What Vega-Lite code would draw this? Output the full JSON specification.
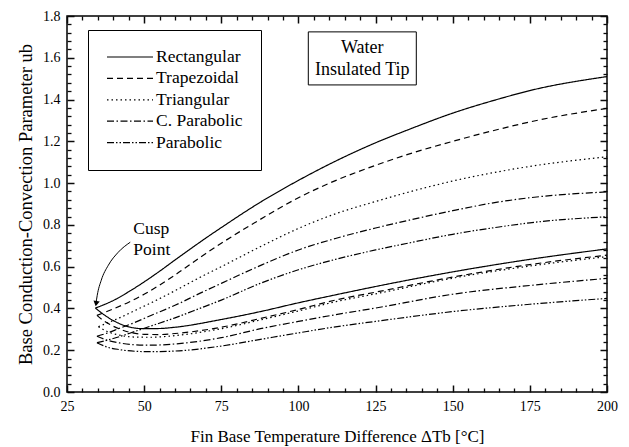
{
  "$schema": "https://vega.github.io/schema/vega-lite/v6.json",
  "width": 540,
  "height": 376,
  "autosize": "none",
  "padding": {"left": 67, "top": 16, "right": 22, "bottom": 55},
  "background": "white",
  "config": {
    "view": {"stroke": "black", "strokeWidth": 1.5},
    "font": "Liberation Serif",
    "axis": {
      "grid": false, "domain": false,
      "labelFont": "Liberation Serif", "titleFont": "Liberation Serif",
      "labelColor": "black", "titleColor": "black",
      "labelFontSize": 14, "titleFontSize": 17, "titleFontWeight": "normal",
      "labelFlush": false
    }
  },
  "resolve": {"axis": {"x": "independent", "y": "independent"}},
  "layer": [
    {
      "data": {"values": [
        {"shape":"Rectangular","branch":"upper","dT":34.2,"ub":0.402},
        {"shape":"Rectangular","branch":"upper","dT":37,"ub":0.418},
        {"shape":"Rectangular","branch":"upper","dT":40,"ub":0.438},
        {"shape":"Rectangular","branch":"upper","dT":45,"ub":0.48},
        {"shape":"Rectangular","branch":"upper","dT":50,"ub":0.527},
        {"shape":"Rectangular","branch":"upper","dT":55,"ub":0.578},
        {"shape":"Rectangular","branch":"upper","dT":60,"ub":0.632},
        {"shape":"Rectangular","branch":"upper","dT":65,"ub":0.685},
        {"shape":"Rectangular","branch":"upper","dT":70,"ub":0.737},
        {"shape":"Rectangular","branch":"upper","dT":75,"ub":0.787},
        {"shape":"Rectangular","branch":"upper","dT":87.6,"ub":0.908},
        {"shape":"Rectangular","branch":"upper","dT":100,"ub":1.013},
        {"shape":"Rectangular","branch":"upper","dT":112,"ub":1.105},
        {"shape":"Rectangular","branch":"upper","dT":125,"ub":1.193},
        {"shape":"Rectangular","branch":"upper","dT":136,"ub":1.258},
        {"shape":"Rectangular","branch":"upper","dT":150,"ub":1.335},
        {"shape":"Rectangular","branch":"upper","dT":165,"ub":1.403},
        {"shape":"Rectangular","branch":"upper","dT":175,"ub":1.443},
        {"shape":"Rectangular","branch":"upper","dT":200,"ub":1.51},
        {"shape":"Rectangular","branch":"lower","dT":34.2,"ub":0.402},
        {"shape":"Rectangular","branch":"lower","dT":37,"ub":0.37},
        {"shape":"Rectangular","branch":"lower","dT":40,"ub":0.342},
        {"shape":"Rectangular","branch":"lower","dT":45,"ub":0.312},
        {"shape":"Rectangular","branch":"lower","dT":50,"ub":0.303},
        {"shape":"Rectangular","branch":"lower","dT":55,"ub":0.304},
        {"shape":"Rectangular","branch":"lower","dT":60,"ub":0.31},
        {"shape":"Rectangular","branch":"lower","dT":75,"ub":0.347},
        {"shape":"Rectangular","branch":"lower","dT":87.7,"ub":0.385},
        {"shape":"Rectangular","branch":"lower","dT":100,"ub":0.427},
        {"shape":"Rectangular","branch":"lower","dT":112,"ub":0.465},
        {"shape":"Rectangular","branch":"lower","dT":125,"ub":0.505},
        {"shape":"Rectangular","branch":"lower","dT":150,"ub":0.575},
        {"shape":"Rectangular","branch":"lower","dT":175,"ub":0.635},
        {"shape":"Rectangular","branch":"lower","dT":200,"ub":0.685},
        {"shape":"Trapezoidal","branch":"upper","dT":34.7,"ub":0.367},
        {"shape":"Trapezoidal","branch":"upper","dT":37,"ub":0.38},
        {"shape":"Trapezoidal","branch":"upper","dT":40,"ub":0.398},
        {"shape":"Trapezoidal","branch":"upper","dT":45,"ub":0.43},
        {"shape":"Trapezoidal","branch":"upper","dT":50,"ub":0.468},
        {"shape":"Trapezoidal","branch":"upper","dT":55,"ub":0.512},
        {"shape":"Trapezoidal","branch":"upper","dT":60,"ub":0.56},
        {"shape":"Trapezoidal","branch":"upper","dT":65,"ub":0.612},
        {"shape":"Trapezoidal","branch":"upper","dT":70,"ub":0.663},
        {"shape":"Trapezoidal","branch":"upper","dT":75,"ub":0.712},
        {"shape":"Trapezoidal","branch":"upper","dT":87.6,"ub":0.826},
        {"shape":"Trapezoidal","branch":"upper","dT":100,"ub":0.93},
        {"shape":"Trapezoidal","branch":"upper","dT":112,"ub":1.012},
        {"shape":"Trapezoidal","branch":"upper","dT":125,"ub":1.085},
        {"shape":"Trapezoidal","branch":"upper","dT":136,"ub":1.14},
        {"shape":"Trapezoidal","branch":"upper","dT":150,"ub":1.2},
        {"shape":"Trapezoidal","branch":"upper","dT":165,"ub":1.258},
        {"shape":"Trapezoidal","branch":"upper","dT":175,"ub":1.293},
        {"shape":"Trapezoidal","branch":"upper","dT":200,"ub":1.358},
        {"shape":"Trapezoidal","branch":"lower","dT":34.7,"ub":0.367},
        {"shape":"Trapezoidal","branch":"lower","dT":37,"ub":0.34},
        {"shape":"Trapezoidal","branch":"lower","dT":40,"ub":0.315},
        {"shape":"Trapezoidal","branch":"lower","dT":45,"ub":0.287},
        {"shape":"Trapezoidal","branch":"lower","dT":50,"ub":0.276},
        {"shape":"Trapezoidal","branch":"lower","dT":55,"ub":0.275},
        {"shape":"Trapezoidal","branch":"lower","dT":60,"ub":0.28},
        {"shape":"Trapezoidal","branch":"lower","dT":75,"ub":0.31},
        {"shape":"Trapezoidal","branch":"lower","dT":87.7,"ub":0.352},
        {"shape":"Trapezoidal","branch":"lower","dT":100,"ub":0.395},
        {"shape":"Trapezoidal","branch":"lower","dT":112,"ub":0.44},
        {"shape":"Trapezoidal","branch":"lower","dT":125,"ub":0.478},
        {"shape":"Trapezoidal","branch":"lower","dT":150,"ub":0.55},
        {"shape":"Trapezoidal","branch":"lower","dT":175,"ub":0.61},
        {"shape":"Trapezoidal","branch":"lower","dT":200,"ub":0.655},
        {"shape":"Triangular","branch":"upper","dT":35.2,"ub":0.313},
        {"shape":"Triangular","branch":"upper","dT":38,"ub":0.33},
        {"shape":"Triangular","branch":"upper","dT":42,"ub":0.355},
        {"shape":"Triangular","branch":"upper","dT":47,"ub":0.39},
        {"shape":"Triangular","branch":"upper","dT":52,"ub":0.425},
        {"shape":"Triangular","branch":"upper","dT":60,"ub":0.485},
        {"shape":"Triangular","branch":"upper","dT":68,"ub":0.548},
        {"shape":"Triangular","branch":"upper","dT":75,"ub":0.6},
        {"shape":"Triangular","branch":"upper","dT":87.6,"ub":0.695},
        {"shape":"Triangular","branch":"upper","dT":100,"ub":0.783},
        {"shape":"Triangular","branch":"upper","dT":112,"ub":0.853},
        {"shape":"Triangular","branch":"upper","dT":125,"ub":0.912},
        {"shape":"Triangular","branch":"upper","dT":136,"ub":0.958},
        {"shape":"Triangular","branch":"upper","dT":150,"ub":1.01},
        {"shape":"Triangular","branch":"upper","dT":165,"ub":1.055},
        {"shape":"Triangular","branch":"upper","dT":175,"ub":1.08},
        {"shape":"Triangular","branch":"upper","dT":200,"ub":1.126},
        {"shape":"Triangular","branch":"lower","dT":35.2,"ub":0.313},
        {"shape":"Triangular","branch":"lower","dT":38,"ub":0.29},
        {"shape":"Triangular","branch":"lower","dT":42,"ub":0.272},
        {"shape":"Triangular","branch":"lower","dT":47,"ub":0.263},
        {"shape":"Triangular","branch":"lower","dT":52,"ub":0.262},
        {"shape":"Triangular","branch":"lower","dT":60,"ub":0.27},
        {"shape":"Triangular","branch":"lower","dT":75,"ub":0.303},
        {"shape":"Triangular","branch":"lower","dT":87.7,"ub":0.345},
        {"shape":"Triangular","branch":"lower","dT":100,"ub":0.388},
        {"shape":"Triangular","branch":"lower","dT":112,"ub":0.432},
        {"shape":"Triangular","branch":"lower","dT":125,"ub":0.47},
        {"shape":"Triangular","branch":"lower","dT":150,"ub":0.545},
        {"shape":"Triangular","branch":"lower","dT":175,"ub":0.603},
        {"shape":"Triangular","branch":"lower","dT":200,"ub":0.648},
        {"shape":"C. Parabolic","branch":"upper","dT":34.7,"ub":0.267},
        {"shape":"C. Parabolic","branch":"upper","dT":38,"ub":0.282},
        {"shape":"C. Parabolic","branch":"upper","dT":42,"ub":0.305},
        {"shape":"C. Parabolic","branch":"upper","dT":47,"ub":0.333},
        {"shape":"C. Parabolic","branch":"upper","dT":52,"ub":0.365},
        {"shape":"C. Parabolic","branch":"upper","dT":60,"ub":0.415},
        {"shape":"C. Parabolic","branch":"upper","dT":68,"ub":0.472},
        {"shape":"C. Parabolic","branch":"upper","dT":75,"ub":0.52},
        {"shape":"C. Parabolic","branch":"upper","dT":87.6,"ub":0.605},
        {"shape":"C. Parabolic","branch":"upper","dT":100,"ub":0.68},
        {"shape":"C. Parabolic","branch":"upper","dT":112,"ub":0.735},
        {"shape":"C. Parabolic","branch":"upper","dT":125,"ub":0.785},
        {"shape":"C. Parabolic","branch":"upper","dT":136,"ub":0.823},
        {"shape":"C. Parabolic","branch":"upper","dT":150,"ub":0.868},
        {"shape":"C. Parabolic","branch":"upper","dT":165,"ub":0.91},
        {"shape":"C. Parabolic","branch":"upper","dT":175,"ub":0.93},
        {"shape":"C. Parabolic","branch":"upper","dT":200,"ub":0.958},
        {"shape":"C. Parabolic","branch":"lower","dT":34.7,"ub":0.267},
        {"shape":"C. Parabolic","branch":"lower","dT":38,"ub":0.248},
        {"shape":"C. Parabolic","branch":"lower","dT":42,"ub":0.235},
        {"shape":"C. Parabolic","branch":"lower","dT":47,"ub":0.226},
        {"shape":"C. Parabolic","branch":"lower","dT":52,"ub":0.224},
        {"shape":"C. Parabolic","branch":"lower","dT":60,"ub":0.23},
        {"shape":"C. Parabolic","branch":"lower","dT":75,"ub":0.26},
        {"shape":"C. Parabolic","branch":"lower","dT":87.7,"ub":0.303},
        {"shape":"C. Parabolic","branch":"lower","dT":100,"ub":0.338},
        {"shape":"C. Parabolic","branch":"lower","dT":112,"ub":0.37},
        {"shape":"C. Parabolic","branch":"lower","dT":125,"ub":0.402},
        {"shape":"C. Parabolic","branch":"lower","dT":150,"ub":0.468},
        {"shape":"C. Parabolic","branch":"lower","dT":175,"ub":0.51},
        {"shape":"C. Parabolic","branch":"lower","dT":200,"ub":0.544},
        {"shape":"Parabolic","branch":"upper","dT":34.7,"ub":0.236},
        {"shape":"Parabolic","branch":"upper","dT":38,"ub":0.248},
        {"shape":"Parabolic","branch":"upper","dT":42,"ub":0.265},
        {"shape":"Parabolic","branch":"upper","dT":47,"ub":0.29},
        {"shape":"Parabolic","branch":"upper","dT":52,"ub":0.315},
        {"shape":"Parabolic","branch":"upper","dT":60,"ub":0.355},
        {"shape":"Parabolic","branch":"upper","dT":68,"ub":0.4},
        {"shape":"Parabolic","branch":"upper","dT":75,"ub":0.44},
        {"shape":"Parabolic","branch":"upper","dT":87.6,"ub":0.52},
        {"shape":"Parabolic","branch":"upper","dT":100,"ub":0.585},
        {"shape":"Parabolic","branch":"upper","dT":112,"ub":0.635},
        {"shape":"Parabolic","branch":"upper","dT":125,"ub":0.68},
        {"shape":"Parabolic","branch":"upper","dT":136,"ub":0.714},
        {"shape":"Parabolic","branch":"upper","dT":150,"ub":0.755},
        {"shape":"Parabolic","branch":"upper","dT":165,"ub":0.79},
        {"shape":"Parabolic","branch":"upper","dT":175,"ub":0.81},
        {"shape":"Parabolic","branch":"upper","dT":200,"ub":0.839},
        {"shape":"Parabolic","branch":"lower","dT":34.7,"ub":0.236},
        {"shape":"Parabolic","branch":"lower","dT":38,"ub":0.215},
        {"shape":"Parabolic","branch":"lower","dT":42,"ub":0.203},
        {"shape":"Parabolic","branch":"lower","dT":47,"ub":0.195},
        {"shape":"Parabolic","branch":"lower","dT":52,"ub":0.193},
        {"shape":"Parabolic","branch":"lower","dT":60,"ub":0.196},
        {"shape":"Parabolic","branch":"lower","dT":75,"ub":0.22},
        {"shape":"Parabolic","branch":"lower","dT":87.7,"ub":0.252},
        {"shape":"Parabolic","branch":"lower","dT":100,"ub":0.283},
        {"shape":"Parabolic","branch":"lower","dT":112,"ub":0.312},
        {"shape":"Parabolic","branch":"lower","dT":125,"ub":0.338},
        {"shape":"Parabolic","branch":"lower","dT":150,"ub":0.385},
        {"shape":"Parabolic","branch":"lower","dT":175,"ub":0.42},
        {"shape":"Parabolic","branch":"lower","dT":200,"ub":0.448}
      ]},
      "mark": {"type": "line", "interpolate": "monotone", "strokeWidth": 1.2, "color": "black"},
      "encoding": {
        "x": {"field": "dT", "type": "quantitative",
              "scale": {"domain": [25, 200], "nice": false, "zero": false},
              "axis": {"orient": "bottom", "values": [25, 50, 75, 100, 125, 150, 175, 200], "format": "d",
                       "tickSize": -7, "labelPadding": 14, "tickColor": "#0a0a0a", "tickWidth": 1.5,
                       "title": "Fin Base Temperature Difference ΔTb [°C]", "titleX": 270, "titleY": 36}},
        "y": {"field": "ub", "type": "quantitative",
              "scale": {"domain": [0, 1.8], "nice": false, "zero": false},
              "axis": {"orient": "left", "values": [0, 0.2, 0.4, 0.6, 0.8, 1.0, 1.2, 1.4, 1.6, 1.8], "format": ".1f",
                       "tickSize": -7, "labelPadding": 14, "tickColor": "#0a0a0a", "tickWidth": 1.5,
                       "title": "Base Conduction-Convection Parameter ub", "titleFontSize": 18.5,
                       "titleX": -42, "titleBaseline": "middle"}},
        "strokeDash": {"field": "shape", "type": "nominal",
                       "scale": {"domain": ["Rectangular", "Trapezoidal", "Triangular", "C. Parabolic", "Parabolic"],
                                 "range": [[1, 0], [6, 4], [1.5, 3], [7, 2.5, 1.5, 2.5], [7, 2, 1.5, 2, 1.5, 2]]},
                       "legend": {"title": null, "orient": "none", "legendX": 21, "legendY": 14,
                                  "strokeColor": "black", "fillColor": "white", "padding": 18,
                                  "labelFont": "Liberation Serif", "labelFontSize": 17.5, "labelColor": "black",
                                  "symbolType": "stroke", "symbolStrokeColor": "black", "symbolStrokeWidth": 1.2,
                                  "symbolSize": 2116, "clipHeight": 18, "rowPadding": 3.4, "labelOffset": 2}},
        "detail": {"field": "branch"}
      }
    },
    {
      "data": {"values": [{"label": "Water Insulated Tip"}]},
      "mark": {"type": "rect", "fill": "white", "stroke": "black", "strokeWidth": 1},
      "encoding": {
        "x": {"datum": 103.2, "type": "quantitative", "scale": {"domain": [25, 200], "nice": false, "zero": false},
              "axis": {"orient": "top", "values": [25, 50, 75, 100, 125, 150, 175, 200], "labels": false, "title": null, "tickSize": -7, "tickColor": "#0a0a0a", "tickWidth": 1.5}},
        "x2": {"datum": 138.2},
        "y": {"datum": 1.724, "type": "quantitative", "scale": {"domain": [0, 1.8], "nice": false, "zero": false},
              "axis": {"orient": "right", "values": [0, 0.2, 0.4, 0.6, 0.8, 1.0, 1.2, 1.4, 1.6, 1.8], "labels": false, "title": null, "tickSize": -7, "tickColor": "#0a0a0a", "tickWidth": 1.5}},
        "y2": {"datum": 1.47}
      }
    },
    {
      "data": {"values": [{"label": "Water Insulated Tip"}]},
      "mark": {"type": "text", "font": "Liberation Serif", "fontSize": 18, "lineHeight": 22, "align": "center", "baseline": "middle", "color": "black"},
      "encoding": {
        "x": {"datum": 120.7, "type": "quantitative", "scale": {"domain": [25, 200], "nice": false, "zero": false},
              "axis": {"orient": "bottom", "values": [30,35,40,45,55,60,65,70,80,85,90,95,105,110,115,120,130,135,140,145,155,160,165,170,180,185,190,195], "labels": false, "title": null, "tickSize": -4, "tickColor": "#0a0a0a", "tickWidth": 1.3}},
        "y": {"datum": 1.647, "type": "quantitative", "scale": {"domain": [0, 1.8], "nice": false, "zero": false},
              "axis": {"orient": "left", "values": [0.04,0.08,0.12,0.16,0.24,0.28,0.32,0.36,0.44,0.48,0.52,0.56,0.64,0.68,0.72,0.76,0.84,0.88,0.92,0.96,1.04,1.08,1.12,1.16,1.24,1.28,1.32,1.36,1.44,1.48,1.52,1.56,1.64,1.68,1.72,1.76], "labels": false, "title": null, "tickSize": -4, "tickColor": "#0a0a0a", "tickWidth": 1.3}},
        "text": {"value": ["Water", "Insulated Tip"]}
      }
    },
    {
      "data": {"values": [{"label": "Cusp Point"}]},
      "mark": {"type": "text", "font": "Liberation Serif", "fontSize": 17.5, "lineHeight": 21, "align": "left", "baseline": "middle", "color": "black"},
      "encoding": {
        "x": {"datum": 46.5, "type": "quantitative", "scale": {"domain": [25, 200], "nice": false, "zero": false},
              "axis": {"orient": "top", "values": [30,35,40,45,55,60,65,70,80,85,90,95,105,110,115,120,130,135,140,145,155,160,165,170,180,185,190,195], "labels": false, "title": null, "tickSize": -4, "tickColor": "#0a0a0a", "tickWidth": 1.3}},
        "y": {"datum": 0.779, "type": "quantitative", "scale": {"domain": [0, 1.8], "nice": false, "zero": false},
              "axis": {"orient": "right", "values": [0.04,0.08,0.12,0.16,0.24,0.28,0.32,0.36,0.44,0.48,0.52,0.56,0.64,0.68,0.72,0.76,0.84,0.88,0.92,0.96,1.04,1.08,1.12,1.16,1.24,1.28,1.32,1.36,1.44,1.48,1.52,1.56,1.64,1.68,1.72,1.76], "labels": false, "title": null, "tickSize": -4, "tickColor": "#0a0a0a", "tickWidth": 1.3}},
        "text": {"value": ["Cusp", "Point"]}
      }
    },
    {
      "data": {"values": [
        {"dT": 45.5, "ub": 0.717},
        {"dT": 41.6, "ub": 0.669},
        {"dT": 38.4, "ub": 0.607},
        {"dT": 36.1, "ub": 0.535},
        {"dT": 34.8, "ub": 0.463},
        {"dT": 34.4, "ub": 0.425}
      ]},
      "mark": {"type": "line", "interpolate": "monotone", "strokeWidth": 1, "color": "black"},
      "encoding": {
        "x": {"field": "dT", "type": "quantitative", "scale": {"domain": [25, 200], "nice": false, "zero": false}, "axis": null},
        "y": {"field": "ub", "type": "quantitative", "scale": {"domain": [0, 1.8], "nice": false, "zero": false}, "axis": null}
      }
    },
    {
      "data": {"values": [{"label": "arrowhead"}]},
      "mark": {"type": "point", "shape": "triangle-down", "filled": true, "color": "black", "size": 40, "angle": 10, "opacity": 1},
      "encoding": {
        "x": {"datum": 34.45, "type": "quantitative", "scale": {"domain": [25, 200], "nice": false, "zero": false}, "axis": null},
        "y": {"datum": 0.423, "type": "quantitative", "scale": {"domain": [0, 1.8], "nice": false, "zero": false}, "axis": null}
      }
    }
  ]
}
